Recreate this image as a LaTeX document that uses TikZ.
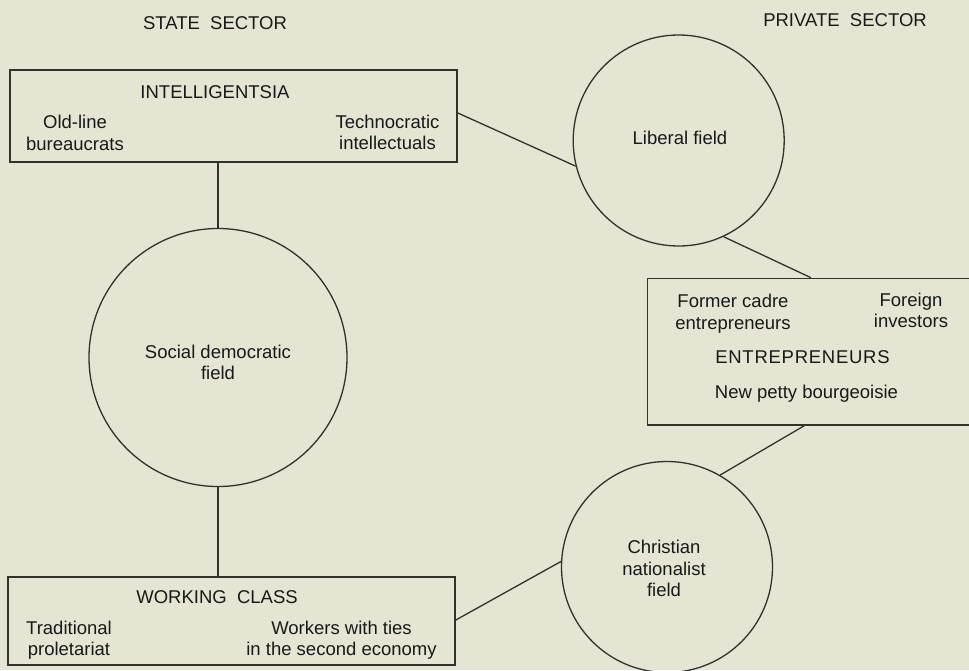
\documentclass[tikz,border=0pt]{standalone}
\usepackage{fontspec}
\setmainfont{Liberation Sans}
\usetikzlibrary{calc}
\definecolor{bgcol}{RGB}{229,229,212}
\definecolor{linecol}{RGB}{50,50,45}
\definecolor{txtcol}{RGB}{25,25,23}
\begin{document}
\begin{tikzpicture}[x=1pt,y=-1pt,
  every node/.style={text=txtcol},
  txt/.style={font=\fontsize{18.5}{21.5}\selectfont, align=center, inner sep=0pt},
  groupbox/.style={draw=linecol, line width=1.3pt, inner sep=0pt, rectangle},
  field/.style={draw=linecol, line width=1.3pt, circle, inner sep=0pt},
  link/.style={draw=linecol, line width=1.3pt}]
\clip (0,0) rectangle (969,670);
\fill[bgcol] (0,0) rectangle (969,670);

% headings
\node[txt] (state) at (215,23) {STATE\ \ SECTOR};
\node[txt] (private) at (845,20) {PRIVATE\ \ SECTOR};

% boxes
\node[groupbox, minimum width=447pt, minimum height=92pt] (intel) at (233.5,116) {};
\node[groupbox, minimum width=447pt, minimum height=88pt] (wc) at (231.5,621) {};
\node[groupbox, minimum width=352.5pt, minimum height=146.7pt] (ent) at (823.75,351.65) {};

% circles
\node[field, minimum size=258pt] (soc) at (218,357.5) {};
\node[field, minimum size=211pt] (lib) at (678.7,140.5) {};
\node[field, minimum size=211pt] (chr) at (667,567) {};

% texts in intelligentsia box
\node[txt] (inteltitle) at (215,92) {INTELLIGENTSIA};
\node[txt] (oldline) at (75,133) {Old-line\\bureaucrats};
\node[txt] (techno) at (387.5,132.5) {Technocratic\\intellectuals};

% texts in working class box
\node[txt] (wctitle) at (217,597) {WORKING\ \ CLASS};
\node[txt] (trad) at (69,640) {Traditional\\proletariat};
\node[txt] (ties) at (341.5,640) {Workers with ties\\in the second economy};

% texts in entrepreneurs box
\node[txt] (cadre) at (733,313.5) {Former cadre\\entrepreneurs};
\node[txt] (foreign) at (911,310.5) {Foreign\\investors};
\node[txt] (enttitle) at (802.5,357) {\addfontfeature{LetterSpace=4}ENTREPRENEURS};
\node[txt] (petty) at (806.5,393.5) {New petty bourgeoisie};

% texts in circles
\node[txt] (soctext) at (218,362.5) {Social democratic\\field};
\node[txt] (libtext) at (680,138) {Liberal field};
\node[txt] (chrtext) at (664,568.5) {Christian\\nationalist\\field};

% connectors
\draw[link] (intel.south -| soc.north) -- (soc.north);
\draw[link] (soc.south) -- (soc.south |- wc.north);
\draw[link] ($(intel.north east)!0.467!(intel.south east)$) -- (lib.194.7);
\draw[link] (lib.-65) -- ([xshift=164pt]ent.north west);
\draw[link] ([xshift=157.5pt]ent.south west) -- (chr.60);
\draw[link] ($(wc.north east)!0.49!(wc.south east)$) -- (chr.177.7);
\end{tikzpicture}
\end{document}
